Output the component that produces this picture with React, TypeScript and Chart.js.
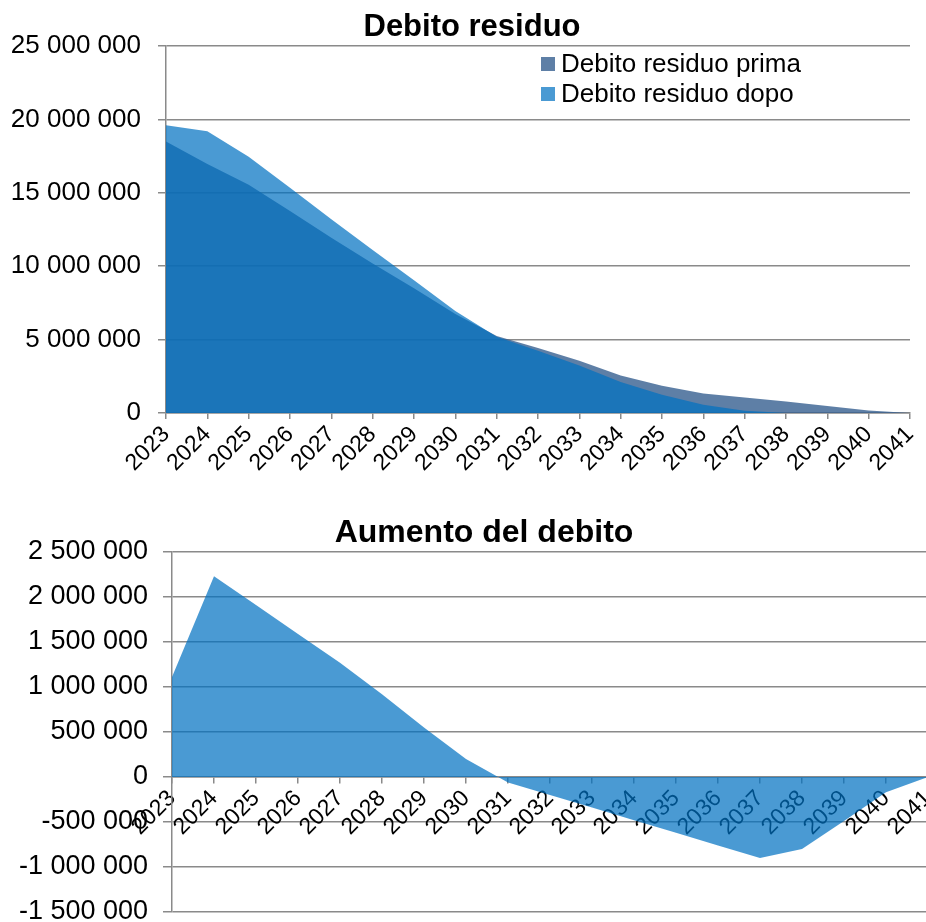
import React, { useEffect, useRef } from "react";
import { Chart, registerables } from "chart.js";

Chart.register(...registerables);

const years = ["2023","2024","2025","2026","2027","2028","2029","2030","2031","2032","2033","2034","2035","2036","2037","2038","2039","2040","2041"];

const debitoPrima = [18500000, 16970000, 15540000, 13760000, 11930000, 10180000, 8500000, 6750000, 5250000, 4420000, 3560000, 2560000, 1850000, 1330000, 1050000, 780000, 480000, 170000, 0];
const debitoDopo = [19600000, 19200000, 17450000, 15350000, 13200000, 11100000, 9050000, 6950000, 5200000, 4240000, 3240000, 2110000, 1240000, 570000, 150000, 0, 0, 0, 0];
const aumento = [1110000, 2230000, 1910000, 1590000, 1270000, 920000, 550000, 200000, -60000, -200000, -340000, -480000, -620000, -760000, -900000, -800000, -490000, -170000, 0];

const titleTop = "Debito residuo";
const titleBottom = "Aumento del debito";
const legendLabels = ["Debito residuo prima", "Debito residuo dopo"];

const FONT = "'Liberation Sans', Arial, sans-serif";
const GRID = "#8a8a8a";
const PRIMA_COLOR = "rgba(54,95,144,0.8)";
const DOPO_COLOR = "rgba(0,113,193,0.71)";
const PRIMA_LEGEND = "#5e7fa6";
const DOPO_LEGEND = "#4a9ad3";

const fmt = (v: number) => {
  const s = Math.abs(Math.round(v)).toString().replace(/\B(?=(\d{3})+(?!\d))/g, " ");
  return (v < 0 ? "-" : "") + s;
};

function titlePlugin(text: string, x: number, y: number, size: number) {
  return {
    id: "customTitle",
    afterDraw(chart: any) {
      const ctx = chart.ctx;
      ctx.save();
      ctx.font = `bold ${size}px ${FONT}`;
      ctx.fillStyle = "#000";
      ctx.textAlign = "center";
      ctx.textBaseline = "middle";
      ctx.fillText(text, x, y);
      ctx.restore();
    },
  };
}

const legendPlugin = {
  id: "customLegend",
  afterDraw(chart: any) {
    const ctx = chart.ctx;
    ctx.save();
    ctx.font = `26px ${FONT}`;
    ctx.textBaseline = "middle";
    ctx.textAlign = "left";
    const cols = [PRIMA_LEGEND, DOPO_LEGEND];
    const ys = [64, 94];
    legendLabels.forEach((l, i) => {
      ctx.fillStyle = cols[i];
      ctx.fillRect(541, ys[i] - 7, 14, 14);
      ctx.fillStyle = "#000";
      ctx.fillText(l, 561, ys[i] + 1);
    });
    ctx.restore();
  },
};

const yFontTop = { family: FONT, size: 26 };
const yFontBottom = { family: FONT, size: 27 };
const xFont = { family: FONT, size: 23 };

const fixX = (h: number | null) => (s: any) => {
  s.paddingLeft = 0;
  s.paddingRight = 0;
  if (h !== null) s.height = h;
};
const fixY = (w: number) => (s: any) => {
  s.width = w;
  s.paddingTop = 0;
  s.paddingBottom = 0;
};

function TopChart() {
  const ref = useRef<HTMLCanvasElement>(null);
  useEffect(() => {
    const chart = new Chart(ref.current!, {
      type: "line",
      data: {
        labels: years,
        datasets: [
          {
            label: legendLabels[0],
            data: debitoPrima,
            backgroundColor: PRIMA_COLOR,
            borderWidth: 0,
            pointRadius: 0,
            fill: "origin",
            tension: 0,
            order: 2,
          },
          {
            label: legendLabels[1],
            data: debitoDopo,
            backgroundColor: DOPO_COLOR,
            borderWidth: 0,
            pointRadius: 0,
            fill: "origin",
            tension: 0,
            order: 1,
          },
        ],
      },
      options: {
        responsive: false,
        animation: false,
        layout: { padding: { top: 46, left: 0, right: 16, bottom: 7 } },
        plugins: { legend: { display: false }, title: { display: false }, tooltip: { enabled: false } },
        scales: {
          x: {
            offset: false,
            grid: { drawOnChartArea: false, drawTicks: true, tickLength: 6, color: GRID, lineWidth: 1.5 },
            border: { color: GRID, width: 1.5 },
            ticks: { autoSkip: false, minRotation: 45, maxRotation: 45, color: "#000", font: xFont, padding: 2 },
            afterFit: fixX(70),
          },
          y: {
            min: 0,
            max: 25000000,
            grid: { color: GRID, lineWidth: 1.5, tickLength: 8 },
            border: { color: GRID, width: 1.5 },
            ticks: { stepSize: 5000000, color: "#000", font: yFontTop, padding: 17, callback: (v: any) => fmt(Number(v)) },
            afterFit: fixY(166),
          },
        },
      },
      plugins: [titlePlugin(titleTop, 472, 27, 31), legendPlugin],
    });
    return () => chart.destroy();
  }, []);
  return <canvas ref={ref} width={926} height={490} style={{ position: "absolute", left: 0, top: 0 }} />;
}

function BottomChart() {
  const ref = useRef<HTMLCanvasElement>(null);
  useEffect(() => {
    const chart = new Chart(ref.current!, {
      type: "line",
      data: {
        labels: years,
        datasets: [
          {
            label: titleBottom,
            data: aumento,
            backgroundColor: DOPO_COLOR,
            borderWidth: 0,
            pointRadius: 0,
            fill: "origin",
            tension: 0,
          },
        ],
      },
      options: {
        responsive: false,
        animation: false,
        layout: { padding: { top: 57, left: 0, right: 2, bottom: 10 } },
        plugins: { legend: { display: false }, title: { display: false }, tooltip: { enabled: false } },
        scales: {
          x: {
            position: { y: 0 } as any,
            offset: false,
            grid: { drawOnChartArea: false, drawTicks: true, tickLength: 6, color: GRID, lineWidth: 1.5 },
            border: { color: GRID, width: 1.5 },
            ticks: { autoSkip: false, minRotation: 45, maxRotation: 45, color: "#000", font: xFont, padding: 2 },
            afterFit: fixX(null),
          },
          y: {
            min: -1500000,
            max: 2500000,
            grid: { color: GRID, lineWidth: 1.5, tickLength: 9 },
            border: { color: GRID, width: 1.5 },
            ticks: { stepSize: 500000, color: "#000", font: yFontBottom, padding: 15, callback: (v: any) => fmt(Number(v)) },
            afterFit: fixY(172),
          },
        },
      },
      plugins: [titlePlugin(titleBottom, 484, 38, 32)],
    });
    return () => chart.destroy();
  }, []);
  return <canvas ref={ref} width={930} height={427} style={{ position: "absolute", left: 0, top: 0 }} />;
}

export default function App() {
  return (
    <div style={{ position: "absolute", left: 0, top: 0, width: 926, height: 922, overflow: "hidden", background: "#fff" }}>
      <TopChart />
      <div style={{ position: "absolute", left: 0, top: 495, width: 926, height: 427, overflow: "hidden" }}>
        <BottomChart />
      </div>
    </div>
  );
}
